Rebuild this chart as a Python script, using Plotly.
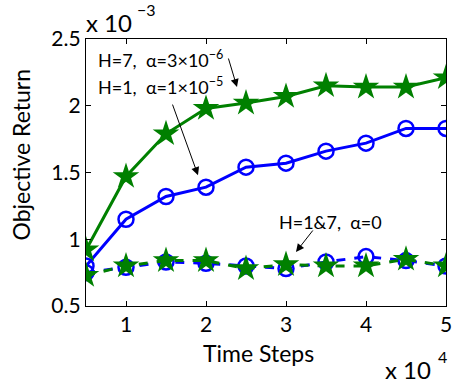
import plotly.graph_objects as go

# Data (y in units of 1e-3, x in time steps)
steps = [5000, 10000, 15000, 20000, 25000, 30000, 35000, 40000, 45000, 50000]
h7_alpha3e6 = [0.92, 1.47, 1.79, 1.98, 2.02, 2.07, 2.15, 2.14, 2.14, 2.21]
h1_alpha1e5 = [0.80, 1.15, 1.32, 1.39, 1.54, 1.57, 1.66, 1.72, 1.83, 1.83]
h1_alpha0 = [0.75, 0.79, 0.83, 0.82, 0.80, 0.78, 0.83, 0.87, 0.84, 0.80]
h7_alpha0 = [0.73, 0.80, 0.84, 0.84, 0.78, 0.81, 0.80, 0.80, 0.85, 0.80]

x_tickvals = [10000, 20000, 30000, 40000, 50000]
x_ticktext = ["1", "2", "3", "4", "5"]
y_tickvals = [0.5, 1, 1.5, 2, 2.5]
y_ticktext = ["0.5", "1", "1.5", "2", "2.5"]

GREEN = "rgb(0,128,0)"
BLUE = "rgb(0,0,255)"
FONT = "Lato"

fig = go.Figure()
fig.add_trace(go.Scatter(x=steps, y=h1_alpha1e5, mode="lines+markers",
                         line=dict(color=BLUE, width=3),
                         marker=dict(symbol="circle-open", size=15, color=BLUE, line=dict(width=2.5))))
fig.add_trace(go.Scatter(x=steps, y=h7_alpha3e6, mode="lines+markers",
                         line=dict(color=GREEN, width=3),
                         marker=dict(symbol="star", size=20, color=GREEN)))
fig.add_trace(go.Scatter(x=steps, y=h1_alpha0, mode="lines+markers",
                         line=dict(color=BLUE, width=3, dash="dash"),
                         marker=dict(symbol="circle-open", size=15, color=BLUE, line=dict(width=2.5))))
fig.add_trace(go.Scatter(x=steps, y=h7_alpha0, mode="lines+markers",
                         line=dict(color=GREEN, width=3, dash="dash"),
                         marker=dict(symbol="star", size=20, color=GREEN)))

ann_font = dict(family=FONT, size=18, color="black")
annotations = [
    dict(x=6200, y=2.35, xref="x", yref="y", text="H=7,  α=3×10<sup>−6</sup>",
         showarrow=False, xanchor="left", yanchor="middle", font=ann_font),
    dict(x=6200, y=2.15, xref="x", yref="y", text="H=1,  α=1×10<sup>−5</sup>",
         showarrow=False, xanchor="left", yanchor="middle", font=ann_font),
    dict(x=28900, y=1.13, xref="x", yref="y", text="H=1&7,  α=0",
         showarrow=False, xanchor="left", yanchor="middle", font=ann_font),
    # arrows
    dict(x=23875, y=2.14, ax=22750, ay=2.365, xref="x", yref="y", axref="x", ayref="y",
         text="", showarrow=True, arrowhead=2, arrowsize=1.6, arrowwidth=1, arrowcolor="black"),
    dict(x=19000, y=1.48, ax=15750, ay=2.02, xref="x", yref="y", axref="x", ayref="y",
         text="", showarrow=True, arrowhead=2, arrowsize=1.6, arrowwidth=1, arrowcolor="black"),
    dict(x=31250, y=0.905, ax=33500, ay=1.077, xref="x", yref="y", axref="x", ayref="y",
         text="", showarrow=True, arrowhead=2, arrowsize=1.6, arrowwidth=1, arrowcolor="black"),
    # axis titles
    dict(x=0, y=0.5, xref="paper", yref="paper", text="Objective Return", showarrow=False,
         textangle=-90, xanchor="center", yanchor="middle", xshift=-66, yshift=17,
         font=dict(family=FONT, size=23, color="black")),
    dict(x=0.5, y=0, xref="paper", yref="paper", text="Time Steps", showarrow=False,
         xanchor="center", yanchor="middle", xshift=-8, yshift=-47,
         font=dict(family=FONT, size=23, color="black")),
    # exponents
    dict(x=0, y=1, xref="paper", yref="paper", text="x 10", showarrow=False,
         xanchor="left", yanchor="middle", yshift=16.5, xshift=-2,
         font=dict(family=FONT, size=24, color="black")),
    dict(x=0, y=1, xref="paper", yref="paper", text="−3", showarrow=False,
         xanchor="left", yanchor="middle", yshift=30, xshift=49,
         font=dict(family=FONT, size=16, color="black")),
    dict(x=1, y=0, xref="paper", yref="paper", text="x 10", showarrow=False,
         xanchor="right", yanchor="middle", yshift=-63, xshift=-13,
         font=dict(family=FONT, size=24, color="black")),
    dict(x=1, y=0, xref="paper", yref="paper", text="4", showarrow=False,
         xanchor="left", yanchor="middle", yshift=-50, xshift=-10,
         font=dict(family=FONT, size=16, color="black")),
]

fig.update_layout(
    width=453, height=383,
    margin=dict(l=86, r=7, t=39, b=77, autoexpand=False),
    paper_bgcolor="white", plot_bgcolor="white",
    showlegend=False,
    font=dict(family=FONT, size=20, color="black"),
    annotations=annotations,
    xaxis=dict(range=[5000, 50000], tickvals=x_tickvals, ticktext=x_ticktext,
               ticks="inside", ticklen=5, tickcolor="black", showgrid=False, zeroline=False,
               showline=True, linecolor="black", linewidth=1.3, mirror="ticks",
               automargin=False, tickfont=dict(size=21)),
    yaxis=dict(range=[0.5, 2.5], tickvals=y_tickvals, ticktext=y_ticktext,
               ticks="inside", ticklen=5, tickcolor="black", showgrid=False, zeroline=False,
               showline=True, linecolor="black", linewidth=1.3, mirror="ticks",
               automargin=False, tickfont=dict(size=21)),
)

fig.write_html("out.html", config={"displayModeBar": False},
               post_script="document.body.style.margin='0';document.body.style.overflow='hidden';")
